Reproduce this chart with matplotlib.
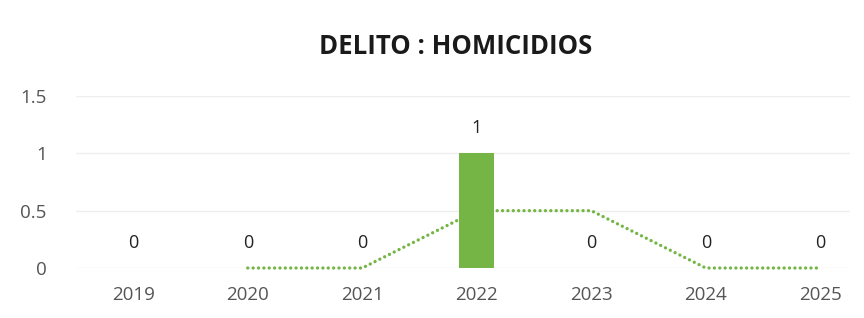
import matplotlib
matplotlib.use("Agg")
import matplotlib.pyplot as plt

years = ["2019", "2020", "2021", "2022", "2023", "2024", "2025"]
values = [0, 0, 0, 1, 0, 0, 0]
trend = [None, 0, 0, 0.5, 0.5, 0, 0]  # 2-period moving average as drawn
yticks = [0, 0.5, 1, 1.5]
ytick_labels = ["0", "0.5", "1", "1.5"]
title = "DELITO : HOMICIDIOS"

green = "#74B545"
W, H = 864, 318
fig = plt.figure(figsize=(W / 100, H / 100), dpi=100)
left, right, bottom, top = 76, 850, 268, 96
ax = fig.add_axes([left / W, (H - bottom) / H, (right - left) / W, (bottom - top) / H])

x = list(range(len(years)))
bars = ax.bar(x, values, width=0.31, color=green, zorder=3)
tx = [i for i, v in zip(x, trend) if v is not None]
ty = [v for v in trend if v is not None]
ax.plot(tx, ty, linestyle=(0, (0.01, 1.6)), color=green, lw=2.4,
        dash_capstyle="round", zorder=4, clip_on=False)

for xi, v in zip(x, values):
    ax.annotate(f"{v:g}", (xi, v), xytext=(0, 18), textcoords="offset points",
                ha="center", va="center", fontsize=13, color="#222222",
                family="Open Sans")

ax.set_xlim(-0.5, (right - left) / 114.5 - 0.5)
ax.set_ylim(0, 1.5)
ax.set_yticks(yticks)
ax.set_yticklabels(ytick_labels)
ax.set_xticks(x)
ax.set_xticklabels(years)
ax.tick_params(length=0, labelsize=13.5, colors="#555555", pad=13)
ax.tick_params(axis="y", pad=21)
for lab in ax.get_xticklabels() + ax.get_yticklabels():
    lab.set_family("Open Sans")
ax.grid(axis="y", color="#EFEFEF", lw=1, zorder=0)
for s in ax.spines.values():
    s.set_visible(False)

fig.text(456 / W, 1 - 46 / H, title, ha="center", va="center", fontsize=18.5,
         fontweight="bold", color="#1a1a1a", family="Open Sans")

fig.savefig("out.png", dpi=100)
